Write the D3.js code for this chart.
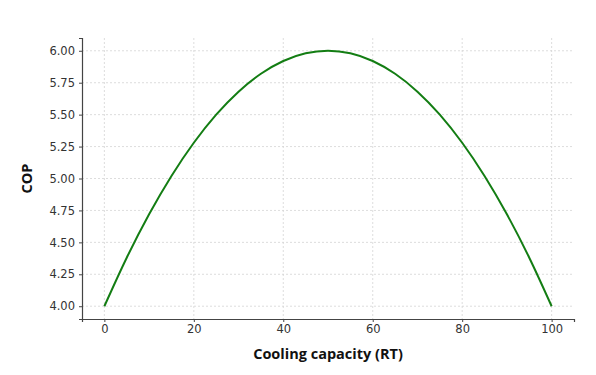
<!DOCTYPE html>
<html>
<head>
<meta charset="utf-8">
<script src="https://cdn.jsdelivr.net/npm/d3@7"></script>
<style>
  body { margin: 0; background: #fff; }
  .tick text { font-family: "DejaVu Sans", sans-serif; font-size: 11.5px; fill: #333; }
  .axis-label { font-family: "Open Sans", sans-serif; font-weight: bold; font-size: 14.5px; fill: #111; }
</style>
</head>
<body>
<svg id="chart" width="596" height="375"></svg>
<script>
// readings, every 5 RT
var capacity = [0, 5, 10, 15, 20, 25, 30, 35, 40, 45, 50, 55, 60, 65, 70, 75, 80, 85, 90, 95, 100];
var cop = [4.00, 4.38, 4.72, 5.02, 5.28, 5.50, 5.68, 5.82, 5.92, 5.98, 6.00, 5.98, 5.92, 5.82, 5.68, 5.50, 5.28, 5.02, 4.72, 4.38, 4.00];
var xTicks = [0, 20, 40, 60, 80, 100];
var yTicks = [4.00, 4.25, 4.50, 4.75, 5.00, 5.25, 5.50, 5.75, 6.00];

var svg = d3.select('#chart');
var plotLeft = 82, plotRight = 574, plotTop = 38, plotBottom = 319;

var x = d3.scaleLinear().domain([-5, 105]).range([plotLeft, plotRight]);
var y = d3.scaleLinear().domain([3.9, 6.1]).range([plotBottom, plotTop]);

// grid
svg.append('g').selectAll('line')
	.data(xTicks)
	.enter()
	.append('line')
	.attr('x1', function (d) { return x(d); })
	.attr('x2', function (d) { return x(d); })
	.attr('y1', plotTop)
	.attr('y2', plotBottom)
	.attr('stroke', '#d4d4d4')
	.attr('stroke-width', 0.8)
	.attr('stroke-dasharray', '2,2');
svg.append('g').selectAll('line')
	.data(yTicks)
	.enter()
	.append('line')
	.attr('x1', plotLeft)
	.attr('x2', plotRight)
	.attr('y1', function (d) { return y(d); })
	.attr('y2', function (d) { return y(d); })
	.attr('stroke', '#d4d4d4')
	.attr('stroke-width', 0.8)
	.attr('stroke-dasharray', '2,2');

// axes
var xAxis = svg.append('g')
	.attr('transform', 'translate(0,' + plotBottom + ')')
	.call(d3.axisBottom(x).tickValues(xTicks).tickSize(3).tickPadding(3).tickFormat(d3.format('d')));
var yAxis = svg.append('g')
	.attr('transform', 'translate(' + plotLeft + ',0)')
	.call(d3.axisLeft(y).tickValues(yTicks).tickSize(3).tickPadding(4).tickFormat(d3.format('.2f')));
[xAxis, yAxis].forEach(function (a) {
	a.select('.domain').attr('stroke', '#444').attr('stroke-width', 1.2);
	a.selectAll('.tick line').attr('stroke', '#444');
});

// curve
var line = d3.line()
	.x(function (d, i) { return x(capacity[i]); })
	.y(function (d) { return y(d); })
	.curve(d3.curveMonotoneX);
svg.append('path')
	.datum(cop)
	.attr('d', line)
	.attr('fill', 'none')
	.attr('stroke', '#137d13')
	.attr('stroke-width', 2);

// labels
svg.append('text')
	.attr('class', 'axis-label')
	.attr('x', (plotLeft + plotRight) / 2)
	.attr('y', 359)
	.attr('text-anchor', 'middle')
	.text('Cooling capacity (RT)');
svg.append('text')
	.attr('class', 'axis-label')
	.attr('transform', 'translate(32,' + ((plotTop + plotBottom) / 2) + ') rotate(-90)')
	.attr('text-anchor', 'middle')
	.text('COP');
</script>
</body>
</html>
